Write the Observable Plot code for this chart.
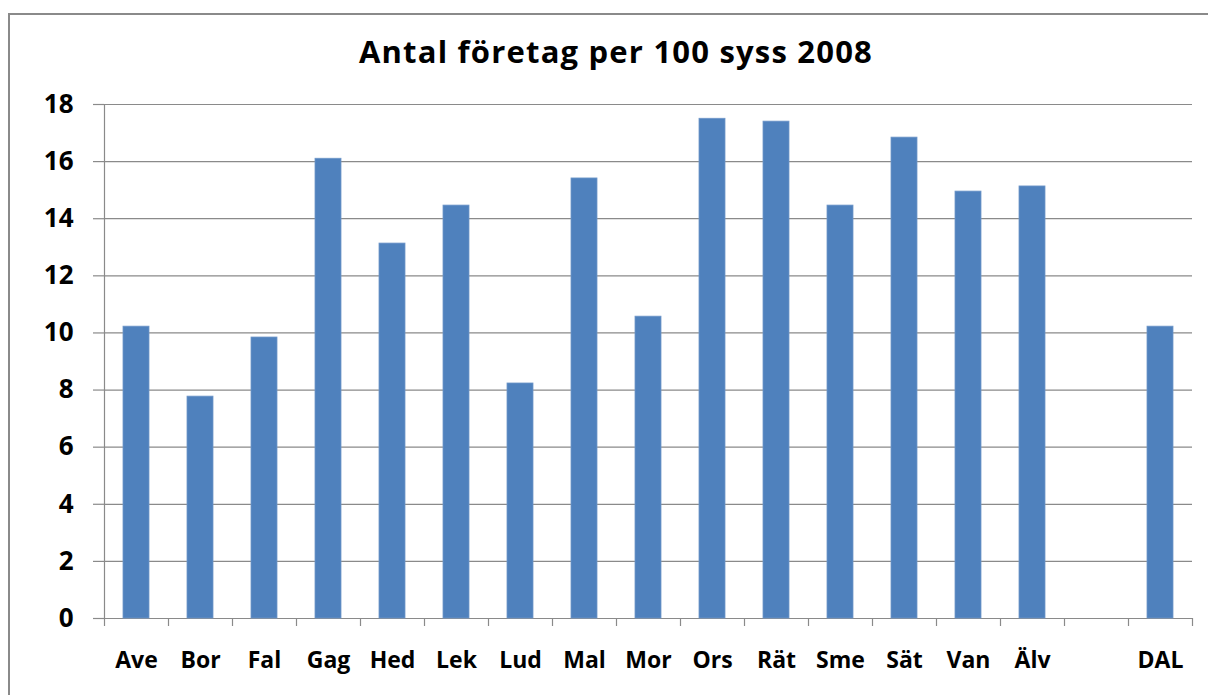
<!DOCTYPE html>
<html>
<head>
<meta charset="utf-8">
<script src="https://cdn.jsdelivr.net/npm/d3@7"></script>
<script src="https://cdn.jsdelivr.net/npm/@observablehq/plot@0.6"></script>
<style>
  html, body { margin: 0; padding: 0; background: #fff; overflow: hidden; }
  #frame { position: absolute; left: 8px; top: 13px; width: 1300px; height: 800px;
           border-left: 2px solid #8a8a8a; border-top: 2px solid #8a8a8a; }
  #title { position: absolute; left: 0; width: 1232px; top: 31px; text-align: center; line-height: 40px;
           font-family: "Open Sans", Lato, sans-serif; font-weight: bold; font-size: 31px; letter-spacing: 1.2px; color: #000; }
  #chart { position: absolute; left: 0; top: 80px; }
</style>
</head>
<body>
<div id="frame"></div>
<div id="title">Antal företag per 100 syss 2008</div>
<div id="chart"></div>
<script>
const categories = ["Ave","Bor","Fal","Gag","Hed","Lek","Lud","Mal","Mor","Ors","Rät","Sme","Sät","Van","Älv"," ","DAL"];
const values =     [10.22, 7.77, 9.84, 16.1, 13.13, 14.46, 8.23, 15.41, 10.57, 17.5, 17.4, 14.46, 16.84, 14.95, 15.13, null, 10.22];
const yTicks = [0,2,4,6,8,10,12,14,16,18];

const data = categories.map((c, i) => ({cat: c, value: values[i]})).filter(d => d.value != null);

const W = 1208, H = 615, ML = 104, MR = 16, MT = 24, MB = 77;
const step = (W - ML - MR) / categories.length;
const font = "'Open Sans', Lato, sans-serif";

const chart = Plot.plot({
  width: W, height: H,
  marginLeft: ML, marginRight: MR, marginTop: MT, marginBottom: MB,
  style: {fontFamily: font, fontWeight: "bold", fontSize: "23px", color: "#000", background: "transparent"},
  x: {domain: categories, paddingInner: 0.6, paddingOuter: 0.3, align: 0.5},
  y: {domain: [0, 18]},
  marks: [
    Plot.gridY(yTicks, {stroke: "#8a8a8a", strokeOpacity: 1, strokeWidth: 1.2}),
    Plot.axisY(yTicks, {tickSize: 11, tickPadding: 20, stroke: "#8a8a8a", strokeWidth: 1.2, label: null, fill: "#000", fontWeight: "bold", fontSize: 26}),
    Plot.frame({anchor: "left", stroke: "#8a8a8a", strokeWidth: 1.2}),
    Plot.barY(data, {x: "cat", y: "value", fill: "#4F81BD", stroke: "#6f97c9", strokeWidth: 0.8}),
    Plot.axisX(categories, {tickSize: 8, text: null, dx: -step / 2, stroke: "#8a8a8a", strokeWidth: 1.2, label: null}),
    Plot.axisX([categories[categories.length - 1]], {tickSize: 8, text: null, dx: step / 2, stroke: "#8a8a8a", strokeWidth: 1.2, label: null}),
    Plot.axisX(categories, {tickSize: 0, tickPadding: 33, label: null, fill: "#000", fontWeight: "bold", fontSize: 23})
  ]
});
document.getElementById("chart").appendChild(chart);
</script>
</body>
</html>
